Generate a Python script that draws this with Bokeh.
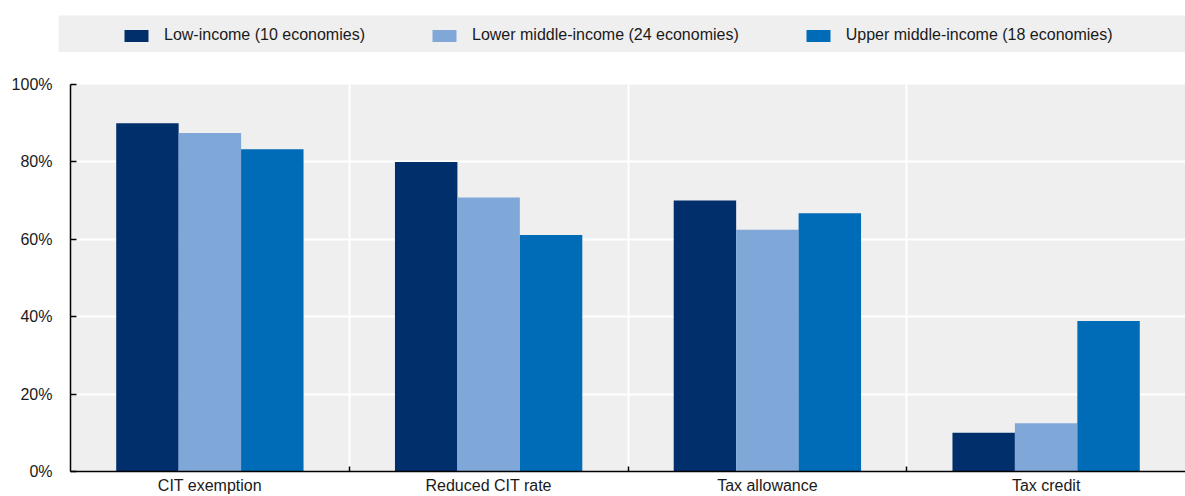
from bokeh.plotting import figure
from bokeh.layouts import column, row
from bokeh.models import (ColumnDataSource, FixedTicker, Range1d, Legend, LegendItem,
                          PrintfTickFormatter, Spacer)
from bokeh.transform import dodge
from bokeh.embed import file_html
from bokeh.resources import INLINE

# Share of economies offering each incentive type, by income group (%)
categories = ["CIT exemption", "Reduced CIT rate", "Tax allowance", "Tax credit"]
low_income = [90.0, 80.0, 70.0, 10.0]
lower_middle_income = [87.5, 70.8, 62.5, 12.5]
upper_middle_income = [83.3, 61.1, 66.7, 38.9]
series_labels = ["Low-income (10 economies)",
                 "Lower middle-income (24 economies)",
                 "Upper middle-income (18 economies)"]
y_ticks = [0, 20, 40, 60, 80, 100]

colors = ["#002f6c", "#7fa8d9", "#006bb6"]
bg = "#efefef"
text_color = "#1a1a1a"
font = "Liberation Sans"

centers = [i + 0.5 for i in range(len(categories))]
source = ColumnDataSource(dict(x=centers, low=low_income,
                               lower=lower_middle_income, upper=upper_middle_income))

p = figure(width=1185, height=444, x_range=Range1d(0, len(categories)), y_range=Range1d(0, 100),
           toolbar_location=None, output_backend="svg",
           min_border_left=70, min_border_right=0, min_border_top=32, min_border_bottom=25)
p.background_fill_color = bg
p.border_fill_color = "white"
p.outline_line_color = None

bar_w = 0.224
fields = ["low", "lower", "upper"]
offsets = [-bar_w, 0.0, bar_w]
for f, off, c in zip(fields, offsets, colors):
    p.vbar(x=dodge("x", off), top=f, width=bar_w, bottom=0, source=source,
           fill_color=c, line_color=None)

# Axes
p.yaxis.ticker = FixedTicker(ticks=y_ticks)
p.yaxis.formatter = PrintfTickFormatter(format="%d%%")
p.yaxis.major_tick_in = 6
p.yaxis.major_tick_out = 0
p.yaxis.major_tick_line_color = "black"
p.yaxis.minor_tick_line_color = None
p.yaxis.major_label_standoff = 18

p.xaxis.ticker = FixedTicker(ticks=centers, minor_ticks=list(range(1, len(categories))))
p.xaxis.major_label_overrides = {c: name for c, name in zip(centers, categories)}
p.xaxis.major_tick_line_color = None
p.xaxis.major_tick_in = 0
p.xaxis.major_tick_out = 0
p.xaxis.minor_tick_in = 5
p.xaxis.minor_tick_out = 0
p.xaxis.minor_tick_line_color = "black"
p.xaxis.minor_tick_line_width = 1.5
p.xaxis.major_label_standoff = 5

for ax in (p.xaxis, p.yaxis):
    ax.axis_line_color = "black"
    ax.axis_line_width = 1.5
    ax.major_tick_line_width = 1.5
    ax.major_label_text_font = font
    ax.major_label_text_font_size = "16px"
    ax.major_label_text_color = text_color

# Grid: white horizontal lines at y ticks, white separators between categories
p.ygrid.ticker = FixedTicker(ticks=y_ticks)
p.ygrid.grid_line_color = "white"
p.ygrid.grid_line_width = 2
p.xgrid.ticker = FixedTicker(ticks=list(range(1, len(categories))))
p.xgrid.grid_line_color = "white"
p.xgrid.grid_line_width = 2

# Legend strip on a grey band; each key renderer holds one undrawn (NaN) row
leg = figure(width=1127, height=37, x_range=(0, 1), y_range=(0, 1),
             x_axis_type=None, y_axis_type=None, toolbar_location=None,
             output_backend="svg", min_border=0)
leg.background_fill_color = bg
leg.border_fill_color = bg
leg.outline_line_color = None
leg.xgrid.visible = False
leg.ygrid.visible = False
items = []
for label, c in zip(series_labels, colors):
    r = leg.vbar(x=[float("nan")], top=[float("nan")], width=1, fill_color=c, line_color=None)
    items.append(LegendItem(label=label, renderers=[r]))
legend = Legend(items=items, orientation="horizontal", location=(63, 8),
                glyph_width=30, glyph_height=15, label_standoff=13, spacing=64,
                padding=0, margin=0, background_fill_alpha=0, border_line_color=None,
                label_text_font=font, label_text_font_size="16px",
                label_text_color=text_color)
leg.add_layout(legend, "center")

layout = column(Spacer(width=1185, height=15),
                row(Spacer(width=58, height=37), leg),
                p)

open("out.html", "w").write(file_html(layout, INLINE))
